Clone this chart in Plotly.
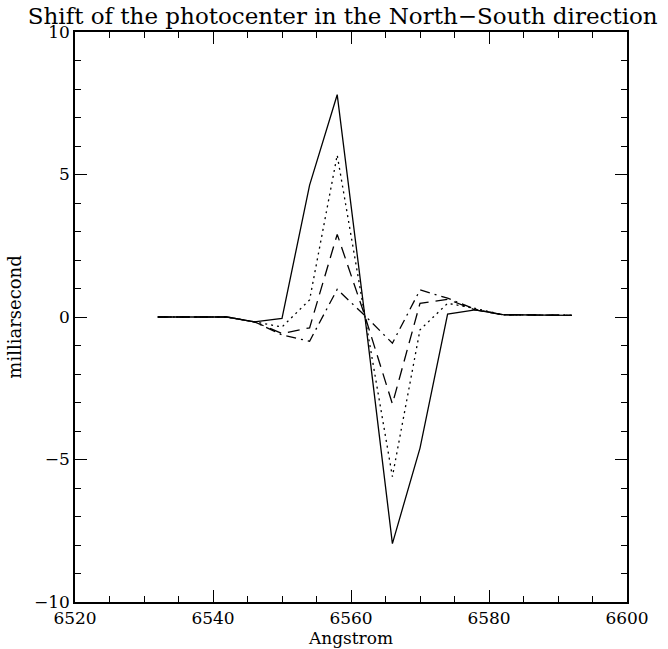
import plotly.graph_objects as go

wavelength = [6532, 6542, 6546, 6550, 6554, 6558, 6562, 6566, 6570, 6574, 6578, 6582, 6592]
shift_solid = [0.0, 0.0, -0.17, -0.05, 4.63, 7.80, 0.05, -7.95, -4.60, 0.10, 0.25, 0.08, 0.06]
shift_dotted = [0.0, 0.0, -0.17, -0.35, 0.60, 5.68, 0.05, -5.60, -0.45, 0.48, 0.30, 0.08, 0.06]
shift_dashed = [0.0, 0.0, -0.17, -0.58, -0.38, 2.90, 0.05, -3.05, 0.48, 0.62, 0.25, 0.08, 0.06]
shift_dashdot = [0.0, 0.0, -0.17, -0.63, -0.85, 0.97, 0.05, -0.92, 0.95, 0.66, 0.27, 0.08, 0.06]

x_ticks = [6520, 6540, 6560, 6580, 6600]
y_ticks = [-10, -5, 0, 5, 10]

FONT = "DejaVu Serif"

fig = go.Figure()
series = [
    (shift_solid, "solid"),
    (shift_dotted, "2px,4px"),
    (shift_dashed, "12px,7px"),
    (shift_dashdot, "10px,5px,2px,5px"),
]
for ys, dash in series:
    fig.add_trace(go.Scatter(
        x=wavelength, y=ys, mode="lines",
        line=dict(color="black", width=1.3, dash=dash),
        showlegend=False, hoverinfo="skip",
    ))

axis_common = dict(
    showgrid=False, zeroline=False, showline=True, linecolor="black", linewidth=1.5,
    mirror="ticks", ticks="inside", ticklen=12, tickwidth=1, tickcolor="black",
    tickfont=dict(family=FONT, size=17, color="black"),
)

fig.update_xaxes(
    range=[6520, 6600], tickvals=x_ticks, ticktext=[str(v) for v in x_ticks],
    minor=dict(ticks="inside", ticklen=6, dtick=5, tick0=6520, tickcolor="black", tickwidth=1),
    title=dict(text="Angstrom", font=dict(family=FONT, size=17, color="black"), standoff=4),
    **axis_common,
)
fig.update_yaxes(
    range=[-10, 10], tickvals=y_ticks, ticktext=["\u221210", "\u22125", "0", "5", "10"],
    minor=dict(ticks="inside", ticklen=6, dtick=1, tick0=0, tickcolor="black", tickwidth=1),
    title=dict(text="milliarsecond", font=dict(family=FONT, size=18, color="black"), standoff=8),
    **axis_common,
)

fig.update_layout(
    width=668, height=649,
    margin=dict(l=75, r=41, t=32, b=47, autoexpand=False),
    paper_bgcolor="white", plot_bgcolor="white",
    title=dict(text="Shift of the photocenter in the North\u2212South direction",
               font=dict(family=FONT, size=23, color="black"),
               x=0.513, xanchor="center", y=0.988, yanchor="top"),
)

fig.write_html("out.html")
